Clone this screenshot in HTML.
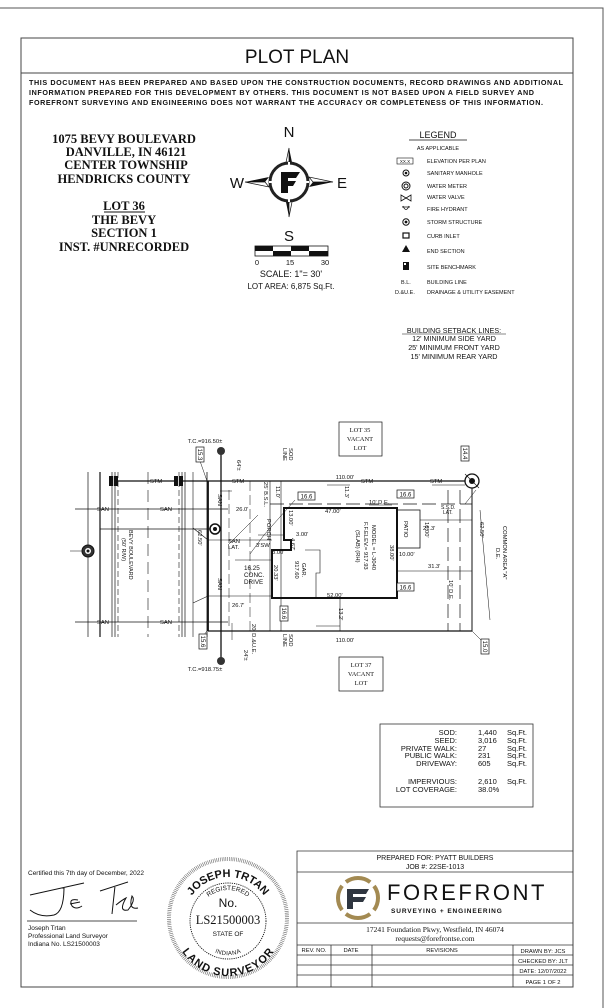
<!DOCTYPE html>
<html><head><meta charset="utf-8"><style>
html,body{margin:0;padding:0;background:#fff;}
svg{display:block;}
text{font-family:"Liberation Sans",sans-serif;fill:#111;}
.s{font-family:"Liberation Serif",serif;}
</style></head><body>
<svg width="612" height="1008" viewBox="0 0 612 1008" xmlns="http://www.w3.org/2000/svg">
<path d="M0 8 H603 V1008" fill="none" stroke="#555" stroke-width="1"/>
<rect x="21" y="38" width="552" height="949" fill="none" stroke="#444" stroke-width="1"/>
<line x1="21" y1="73" x2="573" y2="73" stroke="#444"/>
<text x="297" y="63" font-size="19" text-anchor="middle">PLOT PLAN</text>
<g font-size="7.2" font-weight="bold">
<text x="29" y="85" textLength="534">THIS DOCUMENT HAS BEEN PREPARED AND BASED UPON THE CONSTRUCTION DOCUMENTS, RECORD DRAWINGS AND ADDITIONAL</text>
<text x="29" y="95" textLength="505">INFORMATION PREPARED FOR THIS DEVELOPMENT BY OTHERS. THIS DOCUMENT IS NOT BASED UPON A FIELD SURVEY AND</text>
<text x="29" y="105" textLength="514">FOREFRONT SURVEYING AND ENGINEERING DOES NOT WARRANT THE ACCURACY OR COMPLETENESS OF THIS INFORMATION.</text>
</g>
<g class="s" font-size="12.5" font-weight="bold" text-anchor="middle">
<text class="s" x="124" y="143">1075 BEVY BOULEVARD</text>
<text class="s" x="126" y="156">DANVILLE, IN 46121</text>
<text class="s" x="126" y="169">CENTER TOWNSHIP</text>
<text class="s" x="124" y="183">HENDRICKS COUNTY</text>
<text class="s" x="124" y="210">LOT 36</text>
<text class="s" x="124" y="224">THE BEVY</text>
<text class="s" x="124" y="237">SECTION 1</text>
<text class="s" x="124" y="251">INST. #UNRECORDED</text>
</g>
<line x1="104" y1="212" x2="145" y2="212" stroke="#111"/>
<g>
<polygon points="289,148 284,172 289,168" fill="#fff" stroke="#111" stroke-width="0.7"/>
<polygon points="289,148 294,172 289,168" fill="#111"/>
<polygon points="289,217 294,192 289,196" fill="#fff" stroke="#111" stroke-width="0.7"/>
<polygon points="289,217 284,192 289,196" fill="#111"/>
<polygon points="245,182 269,177 265,182" fill="#111"/>
<polygon points="245,182 269,187 265,182" fill="#fff" stroke="#111" stroke-width="0.7"/>
<polygon points="333,182 309,177 313,182" fill="#fff" stroke="#111" stroke-width="0.7"/>
<polygon points="333,182 309,187 313,182" fill="#111"/>
<circle cx="289" cy="182" r="19" fill="#fff" stroke="#222" stroke-width="3"/>
<line x1="289" y1="162" x2="289" y2="166" stroke="#fff" stroke-width="2"/>
<line x1="289" y1="198" x2="289" y2="202" stroke="#fff" stroke-width="2"/>
<line x1="269" y1="182" x2="273" y2="182" stroke="#fff" stroke-width="2"/>
<line x1="305" y1="182" x2="309" y2="182" stroke="#fff" stroke-width="2"/>
<path d="M281 172 H300 L296 178 H288 V181 H296 L293 186 H288 V193 H281 Z" fill="#111"/>
<text x="289" y="137" font-size="15" text-anchor="middle">N</text>
<text x="289" y="241" font-size="15" text-anchor="middle">S</text>
<text x="237" y="188" font-size="15" text-anchor="middle">W</text>
<text x="342" y="188" font-size="15" text-anchor="middle">E</text>
<rect x="255" y="246" width="73" height="10" fill="#fff" stroke="#111" stroke-width="0.8"/>
<rect x="255" y="246" width="18" height="5" fill="#111"/><rect x="273" y="251" width="18" height="5" fill="#111"/>
<rect x="291" y="246" width="18" height="5" fill="#111"/><rect x="309" y="251" width="19" height="5" fill="#111"/>
<text x="257" y="265" font-size="7.5" text-anchor="middle">0</text>
<text x="290" y="265" font-size="7.5" text-anchor="middle">15</text>
<text x="325" y="265" font-size="7.5" text-anchor="middle">30</text>
<text x="291" y="277" font-size="9" text-anchor="middle">SCALE:  1"=  30'</text>
<text x="291" y="289" font-size="8" text-anchor="middle">LOT AREA: 6,875 Sq.Ft.</text>
</g>
<g font-size="5.5">
<text x="438" y="138" font-size="9" text-anchor="middle">LEGEND</text>
<line x1="409" y1="140" x2="467" y2="140" stroke="#111" stroke-width="0.8"/>
<text x="438" y="150" text-anchor="middle">AS APPLICABLE</text>
<rect x="397" y="158" width="16" height="6" fill="none" stroke="#111" stroke-width="0.6"/>
<text x="405" y="163" font-size="4.5" text-anchor="middle">XX.X</text>
<text x="427" y="163">ELEVATION PER PLAN</text>
<circle cx="406" cy="173" r="3" fill="none" stroke="#111"/><circle cx="406" cy="173" r="1.3" fill="#111"/>
<text x="427" y="175">SANITARY MANHOLE</text>
<circle cx="406" cy="186" r="4" fill="none" stroke="#111"/><circle cx="406" cy="186" r="2" fill="none" stroke="#111"/>
<text x="427" y="188">WATER METER</text>
<path d="M401 195 L411 201 V195 L401 201 Z" fill="none" stroke="#111" stroke-width="0.8"/>
<text x="427" y="199">WATER VALVE</text>
<path d="M403 206 Q406 213 409 206 M402 207 H410" fill="none" stroke="#111" stroke-width="0.8"/>
<text x="427" y="211">FIRE HYDRANT</text>
<circle cx="406" cy="222" r="3.2" fill="none" stroke="#111"/><circle cx="406" cy="222" r="1.4" fill="#111"/>
<text x="427" y="224">STORM STRUCTURE</text>
<rect x="403" y="233" width="6" height="5" fill="#fff" stroke="#111" stroke-width="1.2"/>
<text x="427" y="238">CURB INLET</text>
<polygon points="406,245 402,252 410,252" fill="#111"/>
<text x="427" y="253">END SECTION</text>
<rect x="403" y="262" width="6" height="8" fill="#111"/><rect x="404" y="263" width="2" height="2" fill="#fff"/>
<text x="427" y="269">SITE BENCHMARK</text>
<text x="401" y="284">B.L.</text><text x="427" y="284">BUILDING LINE</text>
<text x="395" y="294">D.&amp;U.E.</text><text x="427" y="294">DRAINAGE &amp; UTILITY EASEMENT</text>
</g>
<g font-size="7.2" text-anchor="middle">
<text x="454" y="333">BUILDING SETBACK LINES:</text>
<line x1="402" y1="334" x2="506" y2="334" stroke="#111" stroke-width="0.6"/>
<text x="454" y="341">12' MINIMUM SIDE YARD</text>
<text x="454" y="350">25' MINIMUM FRONT YARD</text>
<text x="454" y="359">15' MINIMUM REAR YARD</text>
</g>
<g stroke="#111" fill="none">
<line x1="88" y1="472" x2="88" y2="637" stroke-width="0.7"/>
<line x1="100" y1="472" x2="100" y2="637" stroke-width="1.2"/>
<line x1="112" y1="472" x2="112" y2="637" stroke-width="0.7"/>
<line x1="115" y1="472" x2="115" y2="637" stroke-width="0.7"/>
<line x1="118" y1="472" x2="118" y2="637" stroke-width="0.6" stroke-dasharray="6,3"/>
<line x1="148" y1="472" x2="148" y2="637" stroke-width="0.6" stroke-dasharray="12,6"/>
<line x1="179" y1="472" x2="179" y2="637" stroke-width="0.6" stroke-dasharray="6,3"/>
<line x1="182" y1="472" x2="182" y2="637" stroke-width="0.7"/>
<line x1="185" y1="472" x2="185" y2="637" stroke-width="0.7"/>
<line x1="193" y1="472" x2="193" y2="637" stroke-width="0.6"/>
<line x1="207" y1="472" x2="207" y2="637" stroke-width="0.8"/>
<line x1="221" y1="451" x2="221" y2="661" stroke-width="1.3"/>
<line x1="229" y1="490" x2="229" y2="630" stroke-width="0.5" stroke-dasharray="10,4"/>
<line x1="250" y1="481" x2="250" y2="631" stroke-width="0.5" stroke-dasharray="10,4"/>
<line x1="115" y1="481" x2="472" y2="481" stroke-width="1.2"/>
<line x1="75" y1="509" x2="228" y2="509" stroke-width="0.7"/>
<line x1="75" y1="622" x2="228" y2="622" stroke-width="0.7"/>
<line x1="100" y1="529" x2="215" y2="529" stroke-width="0.7"/>
<line x1="70" y1="551" x2="88" y2="551" stroke-width="0.6"/>
<line x1="208" y1="481" x2="208" y2="631" stroke-width="1.8"/>
<line x1="208" y1="631" x2="472" y2="631" stroke-width="1.2"/>
<line x1="472" y1="481" x2="472" y2="631" stroke-width="1"/>
<line x1="208" y1="540" x2="272" y2="540" stroke-width="0.6"/>
<line x1="208" y1="596" x2="272" y2="596" stroke-width="0.6"/>
<line x1="193" y1="603" x2="208" y2="596" stroke-width="0.6"/>
<line x1="193" y1="528" x2="208" y2="540" stroke-width="0.6"/>
<line x1="270" y1="481" x2="270" y2="631" stroke-width="0.6"/>
<line x1="281" y1="481" x2="281" y2="631" stroke-width="0.6"/>
<line x1="270" y1="504" x2="472" y2="504" stroke-width="0.7" stroke-dasharray="14,5"/>
<line x1="448" y1="490" x2="448" y2="631" stroke-width="0.7" stroke-dasharray="14,5"/>
<line x1="460" y1="490" x2="460" y2="631" stroke-width="0.7" stroke-dasharray="14,5"/>
<path d="M284 508 H397 V598 H272 V550 H291 V540 H284 Z" stroke-width="2"/>
<path d="M305 550 H320 V573 H316 V598" stroke-width="0.6"/>
<rect x="397" y="510" width="23" height="38" stroke-width="0.8"/>
<line x1="420" y1="520" x2="472" y2="520" stroke-width="0.6"/>
<line x1="397" y1="571" x2="472" y2="571" stroke-width="0.6"/>
<line x1="340" y1="598" x2="340" y2="631" stroke-width="0.6"/>
<line x1="235" y1="560" x2="272" y2="560" stroke-width="0.5"/>
<line x1="228" y1="545" x2="258" y2="515" stroke-width="0.5"/>
<line x1="250" y1="554" x2="264" y2="535" stroke-width="0.5"/>
<line x1="258" y1="535" x2="284" y2="535" stroke-width="0.5"/>
<line x1="264" y1="535" x2="295" y2="500" stroke-width="0.5"/>
<line x1="465" y1="504" x2="476" y2="490" stroke-width="0.5"/>
<line x1="472" y1="631" x2="482" y2="641" stroke-width="0.5"/>
<line x1="207" y1="481" x2="200" y2="461" stroke-width="0.5"/>
<line x1="207" y1="631" x2="203" y2="636" stroke-width="0.5"/>
<line x1="327" y1="485" x2="350" y2="485" stroke-width="0.5"/>
<line x1="432" y1="485" x2="465" y2="485" stroke-width="0.5"/>
<line x1="232" y1="623" x2="232" y2="640" stroke-width="0.5"/>
<line x1="480" y1="510" x2="490" y2="620" stroke-width="0.5"/>
<line x1="316" y1="626" x2="340" y2="626" stroke-width="0.5"/>
<line x1="220" y1="491" x2="232" y2="491" stroke-width="0.5"/>
</g>
<rect x="109" y="476" width="9" height="10" fill="#111"/><line x1="113.5" y1="476" x2="113.5" y2="486" stroke="#fff" stroke-width="0.8"/>
<rect x="174" y="476" width="9" height="10" fill="#111"/><line x1="178.5" y1="476" x2="178.5" y2="486" stroke="#fff" stroke-width="0.8"/>
<circle cx="88" cy="551" r="6" fill="#333" stroke="#111"/><circle cx="88" cy="551" r="3" fill="#fff"/><circle cx="88" cy="551" r="1.5" fill="#111"/>
<circle cx="215" cy="529" r="5" fill="#fff" stroke="#111" stroke-width="1.5"/><circle cx="215" cy="529" r="2" fill="#111"/>
<circle cx="221" cy="451" r="4" fill="#333"/><circle cx="221" cy="661" r="4" fill="#333"/>
<circle cx="472" cy="481" r="7" fill="#fff" stroke="#111" stroke-width="1.3"/><circle cx="472" cy="481" r="3" fill="#111"/>
<line x1="465" y1="474" x2="479" y2="488" stroke="#111" stroke-width="0.6"/>
<g font-size="6.5" fill="none" stroke="#111" stroke-width="0.7">
<rect x="196" y="447" width="8" height="15" fill="#fff"/>
<rect x="199" y="634" width="8" height="15" fill="#fff"/>
<rect x="298" y="492" width="17" height="8" fill="#fff"/>
<rect x="280" y="606" width="8" height="15" fill="#fff"/>
<rect x="397" y="490" width="17" height="8" fill="#fff"/>
<rect x="397" y="583" width="17" height="8" fill="#fff"/>
<rect x="461" y="446" width="8" height="15" fill="#fff"/>
<rect x="481" y="639" width="8" height="15" fill="#fff"/>
<rect x="339" y="422" width="43" height="34" fill="#fff"/>
<rect x="339" y="657" width="44" height="34" fill="#fff"/>
</g>
<g font-size="6">
<text x="200" y="454.5" transform="rotate(90 200 454.5)" text-anchor="middle" dy="2">15.3</text>
<text x="203" y="641.5" transform="rotate(90 203 641.5)" text-anchor="middle" dy="2">15.6</text>
<text x="284" y="613.5" transform="rotate(90 284 613.5)" text-anchor="middle" dy="2">16.6</text>
<text x="465" y="453.5" transform="rotate(90 465 453.5)" text-anchor="middle" dy="2">14.4</text>
<text x="485" y="646.5" transform="rotate(90 485 646.5)" text-anchor="middle" dy="2">15.0</text>
<text x="306.5" y="498.5" text-anchor="middle">16.6</text>
<text x="405.5" y="496.5" text-anchor="middle">16.6</text>
<text x="405.5" y="589.5" text-anchor="middle">16.6</text>
</g>
<g class="s" font-size="6.5" text-anchor="middle">
<text class="s" x="360" y="432">LOT 35</text><text class="s" x="360" y="441">VACANT</text><text class="s" x="360" y="450">LOT</text>
<text class="s" x="361" y="667">LOT 37</text><text class="s" x="361" y="676">VACANT</text><text class="s" x="361" y="685">LOT</text>
</g>
<g font-size="5.8">
<text x="205" y="443" text-anchor="middle">T.C.=916.50±</text>
<text x="205" y="671" text-anchor="middle">T.C.=918.75±</text>
<text x="150" y="483">STM</text><text x="232" y="483">STM</text><text x="361" y="483">STM</text><text x="430" y="483">STM</text>
<text x="97" y="511">SAN</text><text x="160" y="511">SAN</text>
<text x="97" y="624">SAN</text><text x="160" y="624">SAN</text>
<text x="345" y="479" text-anchor="middle">110.00'</text>
<text x="345" y="642" text-anchor="middle">110.00'</text>
<text x="236" y="511">26.0'</text>
<text x="228" y="543">SAN</text><text x="228" y="549">LAT.</text>
<text x="256" y="547">3'SW</text>
<text x="244" y="570" font-size="6.3">16.25</text><text x="244" y="577" font-size="6.3">CONC.</text><text x="244" y="584" font-size="6.3">DRIVE</text>
<text x="232" y="607">26.7'</text>
<text x="272" y="554">8.00'</text>
<text x="296" y="536">3.00'</text>
<text x="325" y="513">47.00'</text>
<text x="327" y="597">52.00'</text>
<text x="369" y="504">10' D.E.</text>
<line x1="369" y1="505" x2="392" y2="505" stroke="#111" stroke-width="0.5"/>
<text x="423" y="530">21.3'</text>
<text x="399" y="556">10.00'</text>
<text x="428" y="568">31.3'</text>
<text x="441" y="509" font-size="5">S.S.D.</text><text x="443" y="514" font-size="5">LAT.</text>
<text x="237" y="460" transform="rotate(90 237 460)">64'±</text>
<text x="289" y="448" transform="rotate(90 289 448)">SOD</text><text x="283" y="448" transform="rotate(90 283 448)">LINE</text>
<text x="289" y="634" transform="rotate(90 289 634)">SOD</text><text x="283" y="634" transform="rotate(90 283 634)">LINE</text>
<text x="264" y="482" transform="rotate(90 264 482)">25' B.S.L.</text>
<text x="276" y="486" transform="rotate(90 276 486)">11.0'</text>
<text x="345" y="486" transform="rotate(90 345 486)">11.3'</text>
<text x="198" y="530" transform="rotate(90 198 530)">62.50'</text>
<text x="274" y="565" transform="rotate(90 274 565)">20.33'</text>
<text x="289" y="510" transform="rotate(90 289 510)">13.00'</text>
<text x="291" y="538" transform="rotate(90 291 538)">4.67'</text>
<text x="267" y="519" transform="rotate(90 267 519)">PORCH</text>
<text x="302" y="563" transform="rotate(90 302 563)">GAR.</text><text x="295" y="561" transform="rotate(90 295 561)">917.60</text>
<text x="372" y="525" transform="rotate(90 372 525)">MODEL = L-3040</text>
<text x="364" y="522" transform="rotate(90 364 522)">F.F.ELEV.= 917.93</text>
<text x="356" y="530" transform="rotate(90 356 530)">(SLAB)  (RH)</text>
<text x="404" y="521" transform="rotate(90 404 521)">PATIO</text>
<text x="425" y="522" transform="rotate(90 425 522)">16.00'</text>
<text x="390" y="545" transform="rotate(90 390 545)">38.00'</text>
<text x="449" y="580" transform="rotate(90 449 580)">10' D.E.</text>
<text x="339" y="608" transform="rotate(90 339 608)">13.2'</text>
<text x="480" y="522" transform="rotate(90 480 522)">62.50'</text>
<text x="503" y="526" transform="rotate(90 503 526)">COMMON AREA "A"</text>
<text x="496" y="548" transform="rotate(90 496 548)">D.E.</text>
<text x="129" y="530" transform="rotate(90 129 530)" font-size="5.5">BEVY BOULEVARD</text>
<text x="122" y="538" transform="rotate(90 122 538)" font-size="5.5">(50' R/W)</text>
<text x="252" y="624" transform="rotate(90 252 624)">20' D.&amp;U.E.</text>
<text x="244" y="650" transform="rotate(90 244 650)">24'±</text>
<text x="218" y="494" transform="rotate(90 218 494)">SAN</text>
<text x="218" y="578" transform="rotate(90 218 578)">SAN</text>
</g>
<rect x="380" y="724" width="153" height="83" fill="none" stroke="#333" stroke-width="0.8"/>
<g font-size="7.5">
<g text-anchor="end">
<text x="457" y="735">SOD:</text><text x="457" y="743">SEED:</text><text x="457" y="751">PRIVATE WALK:</text>
<text x="457" y="758">PUBLIC WALK:</text><text x="457" y="766">DRIVEWAY:</text>
<text x="457" y="784">IMPERVIOUS:</text><text x="457" y="792">LOT COVERAGE:</text>
</g>
<text x="478" y="735">1,440</text><text x="478" y="743">3,016</text><text x="478" y="751">27</text>
<text x="478" y="758">231</text><text x="478" y="766">605</text><text x="478" y="784">2,610</text><text x="478" y="792">38.0%</text>
<text x="507" y="735">Sq.Ft.</text><text x="507" y="743">Sq.Ft.</text><text x="507" y="751">Sq.Ft.</text>
<text x="507" y="758">Sq.Ft.</text><text x="507" y="766">Sq.Ft.</text><text x="507" y="784">Sq.Ft.</text>
</g>
<text x="28" y="875" font-size="6.5">Certified this 7th day of December, 2022</text>
<path d="M30 895 L84 883 M64 887 Q64 912 54 915 Q40 918 30 910 M78 900 Q68 898 72 906 Q76 910 82 906 M70 904 L80 902 M100 891 L128 882 M115 886 L112 914 M116 905 Q122 900 126 898 Q118 912 128 910 Q136 900 132 896 Q128 910 138 908" fill="none" stroke="#111" stroke-width="1"/>
<line x1="27" y1="921" x2="137" y2="921" stroke="#111" stroke-width="0.8"/>
<g font-size="6.5"><text x="28" y="930">Joseph Trtan</text><text x="28" y="938">Professional Land Surveyor</text><text x="28" y="946">Indiana No. LS21500003</text></g>
<g>
<circle cx="228" cy="918" r="59" fill="none" stroke="#666" stroke-width="4" stroke-dasharray="0.6,1.2"/>
<circle cx="228" cy="921" r="38" fill="none" stroke="#111" stroke-width="0.9" stroke-dasharray="1.2,1"/>
<defs>
<path id="top" d="M184 921 A44 44 0 0 1 272 921"/>
<path id="bot" d="M180 921 A48 48 0 0 0 276 921"/>
<path id="top2" d="M197 921 A31 31 0 0 1 259 921"/>
<path id="bot2" d="M199 923 A29 29 0 0 0 257 923"/>
</defs>
<text font-size="11" font-weight="bold"><textPath href="#top" startOffset="50%" text-anchor="middle">JOSEPH TRTAN</textPath></text>
<text font-size="11" font-weight="bold"><textPath href="#bot" startOffset="50%" text-anchor="middle" dominant-baseline="hanging">LAND SURVEYOR</textPath></text>
<text font-size="6.5"><textPath href="#top2" startOffset="50%" text-anchor="middle">REGISTERED</textPath></text>
<text font-size="6"><textPath href="#bot2" startOffset="50%" text-anchor="middle" dominant-baseline="hanging">INDIANA</textPath></text>
<text x="228" y="907" font-size="12" text-anchor="middle">No.</text>
<text x="228" y="924" font-size="12.5" class="s" text-anchor="middle">LS21500003</text>
<text x="228" y="936" font-size="6.5" text-anchor="middle">STATE OF</text>
</g>
<g stroke="#333" stroke-width="0.8" fill="none">
<path d="M297 987 V851 H573"/>
<line x1="297" y1="872" x2="573" y2="872"/>
<line x1="297" y1="923" x2="573" y2="923"/>
<line x1="297" y1="945" x2="573" y2="945"/>
<line x1="297" y1="955" x2="573" y2="955"/>
<line x1="297" y1="965" x2="573" y2="965"/>
<line x1="297" y1="975" x2="573" y2="975"/>
<line x1="331" y1="945" x2="331" y2="987"/>
<line x1="372" y1="945" x2="372" y2="987"/>
<line x1="513" y1="945" x2="513" y2="987"/>
</g>
<text x="435" y="860" font-size="7" text-anchor="middle">PREPARED FOR: PYATT BUILDERS</text>
<text x="435" y="869" font-size="7" text-anchor="middle">JOB #: 22SE-1013</text>
<g>
<circle cx="358" cy="898" r="20" fill="none" stroke="#a38a52" stroke-width="4" stroke-dasharray="26,5.4" stroke-dashoffset="13"/>
<path d="M347 889 H369 L366 894 H353 V897 H366 L363 902 H353 V909 H347 Z" fill="#2f3640"/>
<text x="387" y="900" font-size="22" fill="#3d434b" letter-spacing="3.5" textLength="161">FOREFRONT</text>
<text x="391" y="913" font-size="6.5" font-weight="bold" fill="#555" letter-spacing="1.2" textLength="112">SURVEYING + ENGINEERING</text>
</g>
<text x="435" y="932" font-size="7.5" class="s" text-anchor="middle">17241 Foundation Pkwy, Westfield, IN 46074</text>
<text x="435" y="941" font-size="7.5" class="s" text-anchor="middle">requests@forefrontse.com</text>
<g font-size="5.8">
<text x="314" y="952" text-anchor="middle">REV. NO.</text>
<text x="351" y="952" text-anchor="middle">DATE</text>
<text x="442" y="952" text-anchor="middle">REVISIONS</text>
<text x="543" y="953" text-anchor="middle">DRAWN BY: JCS</text>
<text x="543" y="963" text-anchor="middle">CHECKED BY: JLT</text>
<text x="543" y="973" text-anchor="middle">DATE: 12/07/2022</text>
<text x="543" y="984" text-anchor="middle">PAGE 1 OF 2</text>
</g>
</svg>
</body></html>
